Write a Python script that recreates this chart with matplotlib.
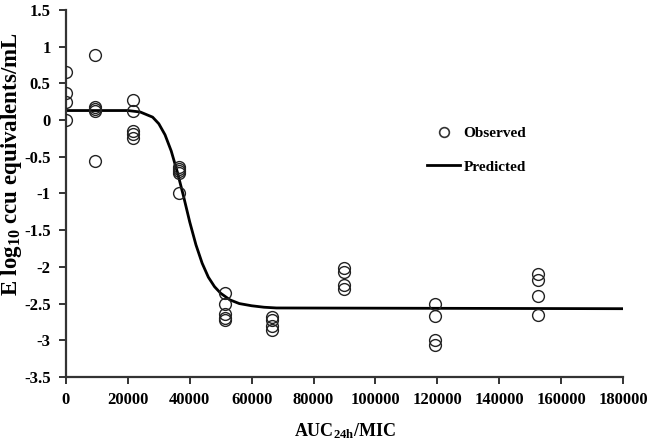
import matplotlib
matplotlib.use("Agg")
import matplotlib.pyplot as plt
from matplotlib.lines import Line2D

# Observed data: (AUC24h/MIC, E log10 ccu equivalents/mL)
obs_x = [0, 0, 0, 0,
         9400, 9400, 9400, 9400, 9400,
         21600, 21600, 21600, 21600, 21600,
         36400, 36400, 36400, 36400, 36400,
         51400, 51400, 51400, 51400, 51400,
         66500, 66500, 66500, 66500,
         89700, 89700, 89700, 89700,
         119200, 119200, 119200, 119200,
         152400, 152400, 152400, 152400]
obs_y = [0.65, 0.37, 0.25, 0.0,
         0.89, 0.18, 0.15, 0.12, -0.56,
         0.27, 0.13, -0.15, -0.19, -0.24,
         -0.64, -0.67, -0.70, -0.72, -1.00,
         -2.36, -2.51, -2.64, -2.69, -2.73,
         -2.68, -2.72, -2.80, -2.86,
         -2.01, -2.07, -2.25, -2.30,
         -2.51, -2.67, -2.99, -3.06,
         -2.10, -2.18, -2.40, -2.65]

# Predicted curve
pred_x = [0, 20000, 24000, 28000, 30000, 32000, 34000, 36000, 38000, 40000,
          42000, 44000, 46000, 48000, 50000, 53000, 56000, 60000, 64000,
          68000, 180000]
pred_y = [0.13, 0.13, 0.11, 0.04, -0.05, -0.20, -0.42, -0.71, -1.04, -1.39,
          -1.70, -1.95, -2.14, -2.27, -2.36, -2.45, -2.50, -2.53, -2.55,
          -2.56, -2.57]

xticks = [0, 20000, 40000, 60000, 80000, 100000, 120000, 140000, 160000, 180000]
yticks = [1.5, 1, 0.5, 0, -0.5, -1, -1.5, -2, -2.5, -3, -3.5]

plt.rcParams['font.family'] = ['Liberation Serif', 'DejaVu Serif']
plt.rcParams['font.weight'] = 'bold'
plt.rcParams['mathtext.fontset'] = 'custom'
plt.rcParams['mathtext.rm'] = 'Liberation Serif:bold'
plt.rcParams['mathtext.it'] = 'Liberation Serif:bold'
plt.rcParams['mathtext.bf'] = 'Liberation Serif:bold'
plt.rcParams['mathtext.default'] = 'bf'

fig = plt.figure(figsize=(6.5, 4.44), dpi=100)
ax = fig.add_axes([0.1015, 0.151, 0.857, 0.8265])

ax.plot(pred_x, pred_y, color='black', lw=2.0, zorder=2)
ax.plot(obs_x, obs_y, linestyle='none', marker='o', ms=8.5, mfc='none',
        mec='#222222', mew=1.0, zorder=3)

ax.set_xlim(0, 180000)
ax.set_ylim(-3.5, 1.5)
ax.set_xticks(xticks)
ax.set_xticklabels([str(t) for t in xticks])
ax.set_yticks(yticks)
ax.set_yticklabels([('%g' % t) for t in yticks])

for s in ['top', 'right']:
    ax.spines[s].set_visible(False)
for s in ['left', 'bottom']:
    ax.spines[s].set_linewidth(1.6)
    ax.spines[s].set_color('#333333')
ax.tick_params(axis='both', direction='out', length=5, width=1.4,
               color='#333333', labelsize=12, pad=6)
for lab in ax.get_xticklabels() + ax.get_yticklabels():
    lab.set_fontweight('bold')

ax.set_xlabel(r'AUC$_{24h}$/MIC', fontsize=13, fontweight='bold')
ax.xaxis.set_label_coords(0.5, -0.12)
ax.set_ylabel(r'E log$_{10}$ ccu equivalents/mL', fontsize=16.5, fontweight='bold')
ax.yaxis.set_label_coords(-0.075, 0.58)

handles = [Line2D([], [], linestyle='none', marker='o', ms=7, mfc='none',
                  mec='#333333', mew=1.2),
           Line2D([], [], color='black', lw=2.0)]
leg = ax.legend(handles, ['Observed', 'Predicted'], frameon=False,
                loc='upper left', bbox_to_anchor=(0.623, 0.72),
                fontsize=11, handlelength=2.2, handletextpad=0.2,
                labelspacing=1.3)
for t in leg.get_texts():
    t.set_fontweight('bold')

fig.savefig('out.png', dpi=100)
